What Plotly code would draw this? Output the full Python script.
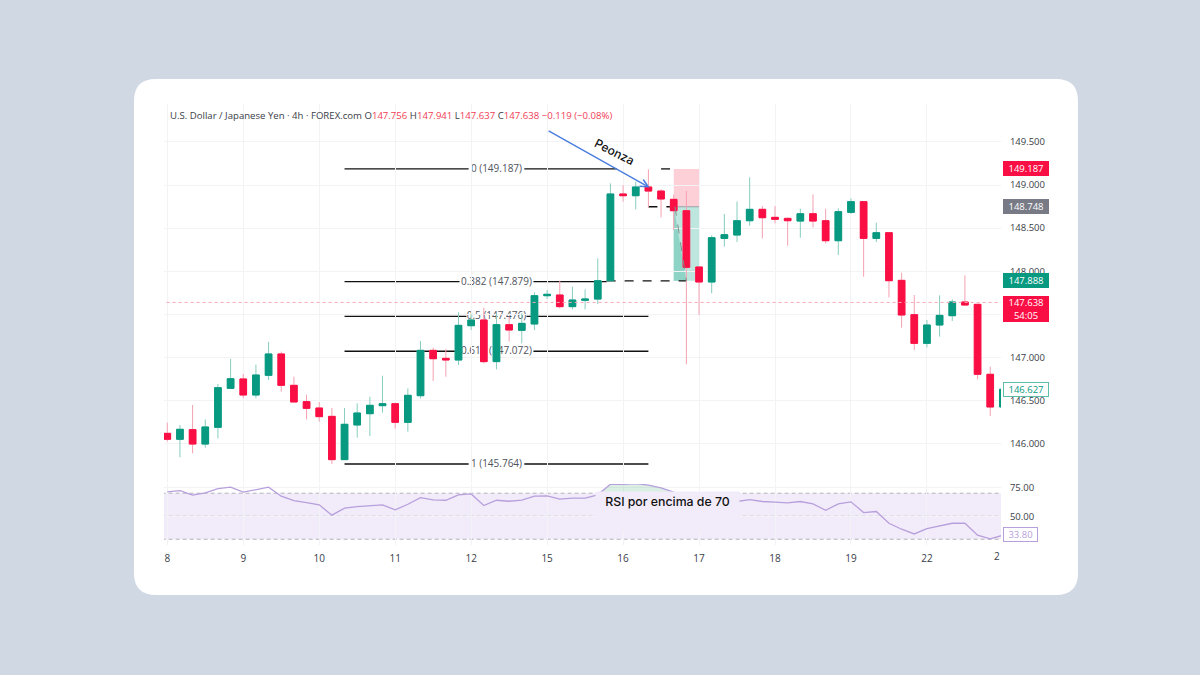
import plotly.graph_objects as go

opens = [146.119,146.05,146.162,145.995,146.189,146.641,146.75,146.564,146.792,147.04,146.676,146.487,146.413,146.316,145.814,146.216,146.347,146.44,146.463,146.247,146.556,147.082,146.989,146.97,147.368,147.434,146.951,147.38,147.314,147.388,147.716,147.724,147.589,147.662,147.677,147.89,148.896,148.876,148.977,148.93,148.834,148.702,148.049,147.875,148.381,148.42,148.586,148.718,148.625,148.613,148.582,148.667,148.586,148.354,148.683,148.807,148.381,148.447,147.894,147.496,147.163,147.376,147.484,147.643,147.616,146.804,146.425]
highs = [146.243,146.216,146.448,146.282,146.692,146.982,146.808,146.916,147.179,147.067,146.777,146.568,146.483,146.413,146.413,146.467,146.545,146.788,146.475,146.641,147.19,147.113,147.098,147.523,147.5,147.577,147.51,147.473,147.511,147.755,147.782,147.89,147.821,147.79,148.149,149.019,148.996,149.039,149.182,148.95,148.888,148.93,148.05,148.416,148.664,148.807,149.089,148.756,148.756,148.625,148.725,148.892,148.725,148.729,148.845,148.81,148.563,148.45,147.983,147.724,147.434,147.72,147.674,147.952,147.62,146.892,146.63]
lows = [146.023,145.841,145.887,145.953,146.061,146.641,146.525,146.525,146.738,146.603,146.483,146.282,146.255,145.763,145.81,146.069,146.088,146.359,146.173,146.139,146.525,146.726,146.777,146.912,147.318,146.931,146.862,147.183,147.163,147.318,147.678,147.569,147.558,147.558,147.619,147.885,148.807,148.718,148.741,148.625,148.478,146.92,147.492,147.743,148.285,148.34,148.528,148.381,148.555,148.296,148.389,148.509,148.323,148.188,148.664,147.937,148.339,147.697,147.345,147.086,147.117,147.241,147.422,147.6,146.745,146.32,146.425]
closes = [146.05,146.166,145.995,146.193,146.649,146.753,146.564,146.796,147.04,146.676,146.483,146.409,146.313,145.814,146.224,146.355,146.444,146.463,146.247,146.56,147.082,146.985,146.97,147.372,147.434,146.951,147.38,147.318,147.395,147.716,147.732,147.589,147.666,147.678,147.89,148.896,148.876,148.977,148.93,148.838,148.702,148.045,147.875,148.389,148.424,148.586,148.718,148.621,148.602,148.586,148.667,148.582,148.354,148.691,148.807,148.381,148.447,147.89,147.492,147.163,147.376,147.488,147.643,147.608,146.804,146.425,146.63]
rsi = [71.2,72.3,68.3,70.3,74,75.2,70.9,73.2,75.2,67.4,63.6,61.9,59.9,50.9,57,58.4,59.3,59.9,55.5,60.4,66.2,64.2,63.9,68.6,69.4,59.3,63.9,63,63.9,67.4,67.7,64.8,65.7,65.8,68.6,77.8,77.8,78.4,77,74.6,70.9,66,58,62,64,62.8,64.5,62.8,62.2,61.6,62.8,60.7,55.2,60.7,62.5,53.2,54.1,43.9,38.7,34.6,39.3,41.3,43.9,43.9,33.5,30.3,33.5]
idx = list(range(len(opens)))

tick_idx = [0,6,12,18,24,30,36,42,48,54,60]
tick_txt = ["8","9","10","11","12","15","16","17","18","19","22"]
price_ticks = [146,146.5,147,147.5,148,148.5,149,149.5]
price_txt = ["146.000","146.500","147.000","","148.000","148.500","149.000","149.500"]
rsi_ticks = [50,75]
fib_levels = [149.187,147.879,147.476,147.072,145.764]
fib_names = ["0 (149.187)","0.382 (147.879)","0.5 (147.476)","0.618 (147.072)","1 (145.764)"]
fib_start = 14
fib_mid = 26
fib_end = [35.5,34.7,38,38,38]
fib_gap = [2.2,2.92,2.37,2.92,2.2]
last_price = 147.638
entry, stop, target = 148.748, 149.187, 147.888
UP, DOWN = "#089981", "#fa0f45"
W = 1200; H = 675
PX = lambda v: v/W
PY = lambda v: 1-v/H

fig = go.Figure()
fig.add_trace(go.Candlestick(x=idx, open=opens, high=highs, low=lows, close=closes,
    increasing=dict(line=dict(color="#86cdbf",width=1),fillcolor=UP),
    decreasing=dict(line=dict(color="#f5a0b0",width=1),fillcolor=DOWN),
    whiskerwidth=0, hoverinfo="skip", xaxis="x", yaxis="y"))
fig.add_trace(go.Candlestick(x=idx, open=opens, close=closes,
    high=[max(a,b) for a,b in zip(opens,closes)], low=[min(a,b) for a,b in zip(opens,closes)],
    increasing=dict(line=dict(color=UP,width=1),fillcolor=UP),
    decreasing=dict(line=dict(color=DOWN,width=1),fillcolor=DOWN),
    whiskerwidth=0, hoverinfo="skip", xaxis="x", yaxis="y"))
fig.add_trace(go.Scatter(x=[-1,67],y=[last_price,last_price],mode="lines",
    line=dict(color="#f7a6b4",width=1,dash="dot"),xaxis="x",yaxis="y",hoverinfo="skip"))
fig.add_trace(go.Scatter(x=[40.1,41],y=[entry,target],mode="lines",
    line=dict(color="#7f8c8a",width=1,dash="dash"),xaxis="x",yaxis="y",hoverinfo="skip"))
fig.add_trace(go.Scatter(x=[34.15,35,36,37,38,39,40,40.5],y=[70]*8,mode="lines",
    line=dict(color="#444444",width=1,dash="dot"),xaxis="x2",yaxis="y2",hoverinfo="skip"))
fig.add_trace(go.Scatter(x=[34.15]+idx[35:41]+[40.5],y=[70]+rsi[35:41]+[70],mode="lines",fill="tonexty",
    fillcolor="rgba(76,175,120,0.2)",line=dict(width=0),xaxis="x2",yaxis="y2",hoverinfo="skip"))
fig.add_trace(go.Scatter(x=idx,y=rsi,mode="lines",line=dict(color="#b79fdc",width=1.3),xaxis="x2",yaxis="y2",hoverinfo="skip"))

r = 22; x0,x1,y0,y1 = 134,1078,79,595
def p(x,y): return f"{PX(x):.5f},{PY(y):.5f}"
card = (f"M {p(x0+r,y0)} L {p(x1-r,y0)} Q {p(x1,y0)} {p(x1,y0+r)} L {p(x1,y1-r)} Q {p(x1,y1)} {p(x1-r,y1)} "
        f"L {p(x0+r,y1)} Q {p(x0,y1)} {p(x0,y1-r)} L {p(x0,y0+r)} Q {p(x0,y0)} {p(x0+r,y0)} Z")
shapes = [dict(type="path",path=card,xref="paper",yref="paper",fillcolor="white",line=dict(width=0),layer="below")]
shapes.append(dict(type="rect",xref="x2",yref="y2",x0=-1,x1=67,y0=30,y1=70,fillcolor="#f2ecfa",line=dict(width=0),layer="below"))
for lv in (70,50,30):
    shapes.append(dict(type="line",xref="x2",yref="y2",x0=-1,x1=67,y0=lv,y1=lv,line=dict(color="#b5b3bb",width=1,dash="4px,3px"),layer="below"))
shapes.append(dict(type="rect",xref="x",yref="y",x0=40,x1=42.07,y0=entry,y1=stop,fillcolor="#fdd0d8",line=dict(width=0),layer="below"))
shapes.append(dict(type="rect",xref="x",yref="y",x0=40,x1=42.07,y0=target,y1=entry,fillcolor="#bde6de",line=dict(width=0),layer="below"))
shapes.append(dict(type="path",xref="x",yref="y",path=f"M 40,{entry} L 40,{target} L 41,{target} Z",fillcolor="#8ed4c6",line=dict(width=0),layer="below"))
shapes.append(dict(type="line",xref="x",yref="y",x0=40,x1=42.07,y0=entry,y1=entry,line=dict(color="#9aa0a6",width=1),layer="below"))
for lv,nm,e,g in zip(fib_levels,fib_names,fib_end,fib_gap):
    for a,b in ((fib_start,fib_mid-g),(fib_mid+g,e)):
        shapes.append(dict(type="line",xref="x",yref="y",x0=a,x1=b,y0=lv,y1=lv,line=dict(color="#111111",width=1.4),layer="below"))
    shapes.append(dict(type="line",xref="x",yref="y",x0=fib_mid-g,x1=fib_mid+g,y0=lv,y1=lv,line=dict(color="rgba(0,0,0,0)",width=1),layer="below",
        label=dict(text=nm,textposition="middle",yanchor="middle",font=dict(size=10,color="#50535e",family="Open Sans"))))
for a,b,lv in ((39,40,stop),(38,40,entry),(34.7,41,target)):
    shapes.append(dict(type="line",xref="x",yref="y",x0=a,x1=b,y0=lv,y1=lv,line=dict(color="#111111",width=1.3,dash="dash"),layer="below"))

def badge(y,txt,bg,fg,border=None,yref="y",h=13,w=44,yshift=0,fs=9.5,xp=1003):
    return dict(xref="paper",yref=yref,x=PX(xp),y=y,xanchor="left",yanchor="middle",text=txt,showarrow=False,
        width=w,height=h,bgcolor=bg,bordercolor=border or bg,borderwidth=1,borderpad=0,yshift=yshift,
        font=dict(size=fs,color=fg,family="Open Sans"),align="center",valign="middle")

R = "#f23d55"
header = ("U.S. Dollar / Japanese Yen · 4h · FOREX.com "
          f"O<span style='color:{R}'>147.756</span> H<span style='color:{R}'>147.941</span> "
          f"L<span style='color:{R}'>147.637</span> C<span style='color:{R}'>147.638</span> "
          f"<span style='color:{R}'>−0.119 (−0.08%)</span>")
ann = [
    dict(xref="paper",yref="paper",x=PX(168),y=PY(116),xanchor="left",yanchor="middle",text=header,showarrow=False,
         font=dict(size=9.6,color="#3a3d47",family="Open Sans")),
    badge(stop,"149.187",DOWN,"#ffffff"),
    badge(entry,"148.748","#787b86","#ffffff"),
    badge(target,"147.888",UP,"#ffffff"),
    badge(last_price,"147.638<br>54:05",DOWN,"#ffffff",h=24,yshift=-6.5),
    badge(146.627,"146.627","#ffffff",UP,border="#5dbcaa"),
    badge(33.8,"33.80","#ffffff","#b79fdc",border="#b79fdc",yref="y2",w=33,xp=1002.5),
    dict(xref="x",yref="y",x=38.1,y=148.97,axref="x",ayref="y",ax=30,ay=149.638,showarrow=True,text="",
         arrowhead=5,arrowsize=1.1,arrowwidth=1.4,arrowcolor="#4a7ede"),
    dict(xref="paper",yref="paper",x=PX(614),y=PY(152),xanchor="center",yanchor="middle",text="Peonza",textangle=27,showarrow=False,
         font=dict(size=12,color="#111111",family="Inter",weight=500)),
    dict(xref="paper",yref="paper",x=PX(667),y=PY(511),xanchor="center",yanchor="middle",text="RSI por encima de 70",showarrow=False,width=139,height=34,
         bgcolor="#f2ecfa",valign="top",align="center",borderpad=2,font=dict(size=12.3,color="#111111",family="Inter",weight=500)),
    dict(xref="paper",yref="paper",x=PX(1002),y=PY(556),xanchor="right",yanchor="middle",text="2",showarrow=False,
         font=dict(size=10,color="#3a3d47",family="Open Sans")),
]
GRID = "#f3f3f6"
fig.update_layout(width=W,height=H,margin=dict(l=0,r=0,t=0,b=0,autoexpand=False),paper_bgcolor="#d0d9e3",plot_bgcolor="rgba(0,0,0,0)",
    showlegend=False,hovermode=False,shapes=shapes,annotations=ann,boxgap=0.25,boxmode="overlay",
    xaxis=dict(domain=[PX(164),PX(1001)],range=[-0.26,65.85],anchor="y",rangeslider=dict(visible=False),automargin=False,
        tickvals=tick_idx,ticktext=tick_txt,showticklabels=False,ticks="",gridcolor=GRID,zeroline=False,showline=False),
    yaxis=dict(domain=[PY(483),PY(104)],range=[145.543,149.94],side="right",anchor="x",tickvals=price_ticks,ticktext=price_txt,automargin=False,
        ticks="outside",ticklen=6,tickcolor="rgba(0,0,0,0)",gridcolor=GRID,zeroline=False,
        tickfont=dict(size=9.5,color="#3a3d47",family="Open Sans")),
    xaxis2=dict(domain=[PX(164),PX(1001)],range=[-0.26,65.85],anchor="y2",matches="x",tickvals=tick_idx,ticktext=tick_txt,automargin=False,
        ticks="outside",ticklen=4,tickcolor="rgba(0,0,0,0)",gridcolor=GRID,zeroline=False,showline=False,
        tickfont=dict(size=10,color="#3a3d47",family="Open Sans")),
    yaxis2=dict(domain=[PY(545),PY(484)],range=[25,78],side="right",anchor="x2",tickvals=rsi_ticks,tickformat=".2f",automargin=False,
        ticks="outside",ticklen=6,tickcolor="rgba(0,0,0,0)",gridcolor=GRID,zeroline=False,
        tickfont=dict(size=9.5,color="#3a3d47",family="Open Sans")),
)
fig.write_html("out.html",config=dict(displayModeBar=False),
    post_script="document.body.style.margin='0';document.body.style.overflow='hidden';")
